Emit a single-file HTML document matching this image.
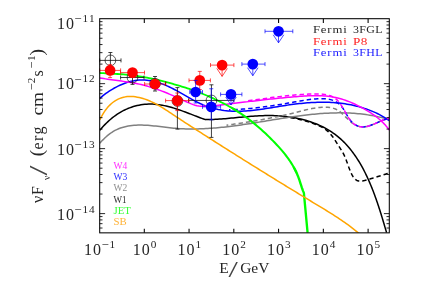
<!DOCTYPE html>
<html><head><meta charset="utf-8"><title>SED</title>
<style>html,body{margin:0;padding:0;background:#fff;}body{width:432px;height:282px;overflow:hidden;}svg{display:block;}text{font-family:"Liberation Serif",serif;}</style></head><body>
<svg width="432" height="282" viewBox="0 0 432 282" style="will-change:transform">
<rect width="432" height="282" fill="#fff"/>
<defs><mask id="m" maskUnits="userSpaceOnUse" x="0" y="0" width="432" height="282"><rect width="432" height="282" fill="#fff"/></mask><clipPath id="c"><rect x="99.70" y="18.70" width="289.60" height="214.15"/></clipPath></defs>
<g clip-path="url(#c)" fill="none" stroke-linejoin="round">
<path d="M99.85 130.24L101.11 128.74L102.41 127.27L103.75 125.82L105.12 124.38L106.52 122.98L107.97 121.61L109.44 120.26L110.95 118.96L112.49 117.69L114.07 116.47L115.67 115.29L117.31 114.16L118.98 113.09L120.68 112.06L122.41 111.10L124.17 110.20L125.95 109.35L127.76 108.57L129.59 107.84L131.45 107.18L133.32 106.58L135.20 106.05L137.11 105.57L139.02 105.16L140.95 104.82L142.88 104.54L144.82 104.32L146.77 104.17L148.71 104.09L150.66 104.07L152.61 104.12L154.56 104.23L156.50 104.40L158.44 104.63L160.39 104.91L162.32 105.25L164.26 105.63L166.19 106.05L168.12 106.52L170.05 107.02L171.97 107.56L173.88 108.13L175.79 108.72L177.70 109.35L179.60 109.99L181.49 110.66L183.38 111.34L185.26 112.03L187.13 112.74L189.00 113.45L190.85 114.16L192.70 114.88L194.54 115.59L196.37 116.30L198.20 116.99L200.01 117.68L201.81 118.35L203.60 119.00L205.38 119.63L205.52 119.61L207.51 119.59L209.50 119.56L211.48 119.50L213.47 119.42L215.45 119.33L217.43 119.22L219.41 119.09L221.39 118.96L223.36 118.81L225.34 118.65L227.32 118.48L229.29 118.31L231.27 118.12L233.24 117.94L235.22 117.75L237.20 117.56L239.17 117.37L241.15 117.19L243.13 117.00L245.11 116.82L247.09 116.65L249.07 116.48L251.05 116.33L253.03 116.18L255.02 116.05L257.00 115.92L258.99 115.82L260.98 115.73L262.97 115.66L264.97 115.60L266.96 115.57L268.96 115.56L270.96 115.58L272.97 115.62L274.98 115.68L276.98 115.77L278.99 115.89L281.00 116.04L283.00 116.21L285.00 116.41L287.00 116.64L288.99 116.89L290.98 117.18L292.96 117.50L294.93 117.84L296.90 118.22L298.86 118.63L300.81 119.07L302.74 119.55L304.67 120.05L306.58 120.59L308.48 121.17L310.36 121.77L312.23 122.42L314.09 123.10L315.92 123.81L317.74 124.56L319.54 125.35L321.32 126.17L323.08 127.04L324.82 127.94L326.54 128.88L328.23 129.85L329.90 130.87L331.54 131.93L333.16 133.03L334.76 134.17L336.32 135.36L337.86 136.58L339.36 137.85L340.84 139.15L342.29 140.50L343.71 141.88L345.10 143.30L346.46 144.75L347.79 146.24L349.10 147.75L350.37 149.29L351.61 150.86L352.83 152.45L354.01 154.07L355.17 155.71L356.30 157.37L357.40 159.05L358.47 160.74L359.51 162.46L360.53 164.19L361.53 165.93L362.50 167.69L363.44 169.46L364.36 171.24L365.27 173.03L366.15 174.83L367.01 176.64L367.85 178.46L368.67 180.28L369.47 182.11L370.26 183.94L371.03 185.78L371.78 187.62L372.52 189.47L373.24 191.32L373.95 193.18L374.64 195.04L375.32 196.90L375.99 198.77L376.65 200.64L377.30 202.52L377.93 204.40L378.56 206.28L379.17 208.16L379.78 210.05L380.38 211.94L380.97 213.83L381.56 215.72L382.13 217.62L382.71 219.51L383.28 221.41L383.84 223.31L384.40 225.21L384.96 227.11L385.51 229.01L386.07 230.91L386.62 232.81" stroke="#000" stroke-width="1.5"/>
<path d="M283.00 116.60L284.99 116.83L286.98 117.08L288.95 117.36L290.92 117.67L292.87 118.01L294.82 118.37L296.77 118.77L298.71 119.19L300.64 119.65L302.56 120.13L304.48 120.65L306.39 121.20L308.30 121.78L310.21 122.39L312.11 123.04L314.00 123.72L315.89 124.44L317.75 125.21L319.58 126.04L321.37 126.94L323.10 127.91L324.77 128.96L326.37 130.11L327.88 131.35L329.30 132.71L330.62 134.16L331.87 135.70L333.06 137.31L334.19 138.97L335.29 140.66L336.38 142.37L337.46 144.06L338.54 145.74L339.63 147.41L340.69 149.07L341.73 150.74L342.72 152.43L343.64 154.16L344.49 155.93L345.28 157.74L346.01 159.59L346.71 161.46L347.39 163.35L348.06 165.25L348.75 167.15L349.46 169.04L350.21 170.93L351.02 172.79L351.90 174.63L352.87 176.42L353.98 178.07L355.29 179.45L356.84 180.44L358.59 181.00L360.48 181.16L362.47 180.99L364.52 180.58L366.58 180.03L368.61 179.41L370.57 178.81L372.47 178.22L374.32 177.65L376.14 177.09L377.95 176.53L379.77 175.97L381.60 175.40L383.46 174.81L385.37 174.20L387.34 173.57L389.40 172.90" stroke="#000" stroke-width="1.5" stroke-dasharray="4.4 3"/>
<path d="M99.77 143.28L101.08 141.81L102.44 140.35L103.85 138.93L105.30 137.53L106.81 136.19L108.36 134.89L109.95 133.66L111.59 132.51L113.28 131.43L115.01 130.45L116.79 129.57L118.61 128.77L120.46 128.07L122.34 127.46L124.25 126.93L126.18 126.47L128.13 126.09L130.10 125.77L132.08 125.52L134.06 125.33L136.05 125.20L138.04 125.12L140.02 125.09L142.01 125.10L143.99 125.15L145.97 125.24L147.96 125.37L149.94 125.52L151.92 125.69L153.90 125.89L155.89 126.10L157.87 126.33L159.85 126.57L161.84 126.81L163.83 127.06L165.81 127.30L167.80 127.54L169.79 127.77L171.79 127.99L173.78 128.18L175.78 128.36L177.78 128.51L179.78 128.65L181.78 128.76L183.78 128.85L185.79 128.91L187.79 128.96L189.80 128.99L191.80 129.00L193.81 129.00L195.81 128.97L197.81 128.93L199.81 128.87L201.80 128.80L203.80 128.71L205.79 128.61L207.78 128.50L209.76 128.37L211.74 128.23L213.72 128.08L215.70 127.92L217.67 127.74L219.65 127.55L221.62 127.36L223.59 127.15L225.56 126.93L227.53 126.71L229.49 126.47L231.46 126.23L233.43 125.97L235.39 125.71L237.36 125.45L239.32 125.17L241.29 124.89L243.25 124.60L245.22 124.31L247.19 124.01L249.16 123.71L251.13 123.40L253.10 123.09L255.07 122.77L257.04 122.46L259.01 122.13L260.98 121.81L262.95 121.49L264.93 121.16L266.90 120.84L268.88 120.51L270.85 120.19L272.83 119.86L274.80 119.54L276.78 119.22L278.76 118.90L280.74 118.59L282.71 118.28L284.69 117.97L286.67 117.66L288.65 117.36L290.63 117.07L292.61 116.78L294.59 116.50L296.57 116.22L298.55 115.96L300.53 115.70L302.51 115.44L304.49 115.20L306.47 114.97L308.46 114.74L310.44 114.53L312.42 114.32L314.40 114.13L316.38 113.95L318.36 113.78L320.35 113.62L322.33 113.48L324.31 113.35L326.29 113.23L328.27 113.13L330.25 113.04L332.23 112.97L334.21 112.92L336.19 112.88L338.17 112.85L340.15 112.85L342.13 112.86L344.11 112.89L346.09 112.94L348.07 113.01L350.05 113.10L352.03 113.21L354.01 113.34L355.98 113.49L357.96 113.66L359.94 113.86L361.91 114.07L363.89 114.32L365.87 114.58L367.84 114.87L369.81 115.18L371.79 115.52L373.76 115.88L375.73 116.27L377.70 116.69L379.68 117.13L381.65 117.60L383.61 118.10L385.58 118.63L387.55 119.18L389.52 119.77" stroke="#808080" stroke-width="1.5"/>
<path d="M226.50 125.27L228.46 124.98L230.43 124.69L232.39 124.40L234.35 124.10L236.31 123.81L238.27 123.51L240.23 123.21L242.19 122.91L244.15 122.60L246.11 122.29L248.06 121.98L250.02 121.66L251.97 121.34L253.93 121.01L255.88 120.68L257.83 120.35L259.78 120.01L261.73 119.66L263.68 119.31L265.63 118.95L267.58 118.59L269.52 118.22L271.46 117.84L273.41 117.46L275.35 117.07L277.29 116.67L279.23 116.26L281.17 115.85L283.10 115.43L285.04 115.00L286.97 114.56L288.90 114.11L290.83 113.65L292.76 113.18L294.68 112.71L296.61 112.22L298.53 111.73L300.46 111.23L302.38 110.74L304.31 110.26L306.24 109.79L308.17 109.35L310.11 108.93L312.05 108.54L314.01 108.20L315.96 107.89L317.93 107.63L319.91 107.43L321.90 107.29L323.90 107.21L325.90 107.22L327.88 107.32L329.85 107.53L331.77 107.88L333.64 108.37L335.45 109.02L337.18 109.85L338.83 110.87L340.40 112.04L341.92 113.34L343.40 114.72L344.86 116.16L346.30 117.63L347.76 119.09L349.23 120.51L350.74 121.85L352.30 123.09L353.93 124.18L355.63 125.11L357.41 125.85L359.23 126.39L361.10 126.72L363.00 126.83L364.92 126.72L366.85 126.41L368.78 125.93L370.72 125.33L372.65 124.62L374.57 123.84L376.46 123.02L378.33 122.20L380.17 121.38L382.00 120.60L383.82 119.87L385.65 119.21L387.49 118.63L389.36 118.14" stroke="#808080" stroke-width="1.5" stroke-dasharray="4.4 3" stroke-dashoffset="2.60"/>
<path d="M99.75 98.33L101.22 97.07L102.73 95.83L104.29 94.62L105.89 93.43L107.53 92.27L109.20 91.15L110.91 90.06L112.65 89.02L114.41 88.01L116.21 87.05L118.03 86.14L119.88 85.27L121.74 84.47L123.63 83.71L125.53 83.02L127.44 82.39L129.37 81.83L131.30 81.33L133.24 80.91L135.19 80.56L137.14 80.28L139.09 80.09L141.04 79.98L142.99 79.96L144.93 80.02L146.86 80.17L148.79 80.39L150.71 80.69L152.63 81.06L154.53 81.50L156.43 82.01L158.32 82.57L160.20 83.19L162.07 83.86L163.94 84.58L165.79 85.35L167.63 86.16L169.46 87.00L171.27 87.88L173.08 88.79L174.87 89.73L176.65 90.68L178.42 91.66L180.18 92.65L181.94 93.65L183.69 94.65L185.43 95.65L187.17 96.66L188.92 97.65L190.67 98.63L192.42 99.60L194.18 100.55L195.94 101.47L197.72 102.37L199.51 103.23L201.31 104.06L203.13 104.84L204.97 105.58L206.83 106.28L208.71 106.92L210.60 107.52L212.50 108.08L214.42 108.58L216.35 109.05L218.29 109.47L220.24 109.84L222.19 110.17L224.16 110.46L226.12 110.70L228.10 110.90L230.07 111.06L232.04 111.18L234.02 111.25L236.00 111.29L237.98 111.29L239.96 111.26L241.94 111.20L243.92 111.11L245.90 110.98L247.89 110.83L249.87 110.66L251.86 110.46L253.84 110.25L255.83 110.01L257.81 109.75L259.80 109.48L261.79 109.20L263.77 108.91L265.76 108.60L267.74 108.29L269.73 107.97L271.71 107.64L273.70 107.32L275.68 106.99L277.67 106.67L279.65 106.34L281.63 106.03L283.61 105.72L285.59 105.42L287.57 105.12L289.55 104.84L291.52 104.57L293.50 104.31L295.48 104.06L297.45 103.82L299.43 103.60L301.41 103.39L303.38 103.20L305.36 103.02L307.34 102.86L309.32 102.71L311.29 102.59L313.27 102.48L315.25 102.39L317.24 102.32L319.22 102.27L321.20 102.24L323.19 102.24L325.18 102.26L327.17 102.30L329.16 102.37L331.15 102.46L333.14 102.57L335.13 102.71L337.12 102.88L339.10 103.08L341.08 103.30L343.06 103.55L345.04 103.83L347.01 104.14L348.97 104.48L350.93 104.85L352.88 105.25L354.82 105.68L356.75 106.15L358.68 106.64L360.59 107.17L362.50 107.74L364.39 108.34L366.28 108.97L368.15 109.64L370.00 110.35L371.85 111.09L373.68 111.87L375.49 112.69L377.29 113.55L379.08 114.44L380.84 115.38L382.59 116.36L384.32 117.37L386.03 118.43L387.73 119.53L389.40 120.68" stroke="#0000ff" stroke-width="1.5"/>
<path d="M229.00 109.75L230.99 109.69L232.98 109.62L234.97 109.54L236.95 109.44L238.94 109.32L240.92 109.20L242.90 109.06L244.88 108.91L246.86 108.74L248.83 108.57L250.81 108.38L252.78 108.18L254.75 107.97L256.73 107.75L258.70 107.52L260.67 107.28L262.63 107.03L264.60 106.77L266.57 106.51L268.53 106.23L270.50 105.95L272.46 105.66L274.43 105.36L276.39 105.06L278.35 104.75L280.31 104.43L282.28 104.11L284.24 103.78L286.20 103.45L288.16 103.11L290.12 102.77L292.08 102.43L294.04 102.08L296.00 101.73L297.96 101.38L299.92 101.03L301.88 100.68L303.84 100.35L305.81 100.04L307.77 99.75L309.74 99.48L311.71 99.25L313.68 99.05L315.65 98.89L317.63 98.78L319.61 98.71L321.59 98.70L323.58 98.75L325.57 98.86L327.56 99.06L329.53 99.38L331.46 99.86L333.34 100.51L335.14 101.34L336.86 102.33L338.48 103.46L339.97 104.74L341.32 106.16L342.53 107.69L343.63 109.31L344.65 111.00L345.63 112.74L346.60 114.49L347.60 116.24L348.68 117.96L349.85 119.62L351.15 121.20L352.55 122.65L354.06 123.94L355.67 125.04L357.36 125.91L359.13 126.51L360.96 126.84L362.86 126.90L364.79 126.74L366.75 126.39L368.73 125.89L370.71 125.26L372.68 124.54L374.62 123.76L376.52 122.96L378.37 122.16L380.17 121.39L381.95 120.66L383.73 119.96L385.55 119.30L387.42 118.69L389.38 118.12" stroke="#0000ff" stroke-width="1.5" stroke-dasharray="4.4 3" stroke-dashoffset="3.00"/>
<path d="M99.73 77.90L101.68 78.24L103.63 78.57L105.59 78.88L107.55 79.17L109.53 79.46L111.50 79.74L113.48 80.01L115.46 80.28L117.45 80.55L119.43 80.82L121.42 81.10L123.41 81.38L125.39 81.67L127.37 81.97L129.35 82.28L131.32 82.61L133.29 82.96L135.26 83.33L137.21 83.72L139.16 84.13L141.11 84.57L143.04 85.04L144.96 85.54L146.88 86.06L148.79 86.61L150.69 87.19L152.58 87.78L154.47 88.40L156.35 89.04L158.22 89.70L160.09 90.39L161.95 91.09L163.80 91.81L165.66 92.54L167.50 93.30L169.34 94.07L171.18 94.85L173.01 95.65L174.84 96.46L176.67 97.28L178.49 98.12L180.31 98.96L182.13 99.81L183.95 100.67L185.78 101.51L187.61 102.35L189.46 103.15L191.33 103.91L193.20 104.60L195.10 105.20L197.01 105.68L198.95 106.03L200.89 106.24L202.86 106.34L204.83 106.34L206.82 106.27L208.81 106.15L210.80 105.98L212.79 105.79L214.78 105.60L216.78 105.40L218.76 105.19L220.75 104.98L222.74 104.75L224.73 104.53L226.71 104.30L228.70 104.06L230.68 103.83L232.66 103.59L234.64 103.34L236.63 103.10L238.61 102.85L240.59 102.60L242.57 102.36L244.55 102.11L246.52 101.87L248.50 101.62L250.48 101.38L252.46 101.14L254.44 100.91L256.41 100.67L258.39 100.44L260.37 100.21L262.35 99.99L264.33 99.76L266.30 99.54L268.28 99.33L270.26 99.11L272.24 98.90L274.23 98.69L276.21 98.49L278.19 98.29L280.18 98.09L282.16 97.89L284.15 97.70L286.14 97.52L288.13 97.33L290.12 97.15L292.11 96.98L294.11 96.81L296.11 96.64L298.10 96.48L300.10 96.33L302.10 96.18L304.10 96.05L306.11 95.93L308.11 95.83L310.10 95.75L312.10 95.69L314.10 95.66L316.09 95.65L318.08 95.67L320.07 95.72L322.05 95.80L324.03 95.92L326.00 96.08L327.97 96.28L329.93 96.53L331.88 96.82L333.83 97.15L335.77 97.54L337.70 97.98L339.63 98.47L341.54 99.02L343.45 99.61L345.34 100.25L347.23 100.93L349.10 101.65L350.96 102.41L352.81 103.21L354.64 104.05L356.46 104.91L358.27 105.81L360.06 106.73L361.83 107.68L363.59 108.64L365.33 109.63L367.05 110.64L368.75 111.67L370.43 112.73L372.09 113.81L373.72 114.93L375.32 116.08L376.89 117.27L378.43 118.50L379.94 119.77L381.41 121.09L382.84 122.46L384.23 123.88L385.58 125.37L386.89 126.91L388.15 128.51L389.36 130.18" stroke="#ff00ff" stroke-width="1.5"/>
<path d="M247.71 100.75L249.70 100.48L251.69 100.22L253.67 99.96L255.65 99.69L257.62 99.42L259.59 99.16L261.55 98.89L263.51 98.63L265.47 98.37L267.42 98.11L269.37 97.85L271.32 97.60L273.27 97.35L275.22 97.11L277.17 96.87L279.11 96.63L281.06 96.41L283.01 96.18L284.96 95.97L286.92 95.76L288.87 95.56L290.83 95.37L292.80 95.18L294.76 95.01L296.74 94.85L298.71 94.69L300.69 94.55L302.68 94.42L304.68 94.30L306.68 94.19L308.69 94.10L310.70 94.01L312.73 93.95L314.76 93.90L316.79 93.88L318.80 93.91L320.81 94.00L322.78 94.16L324.72 94.40L326.62 94.75L328.47 95.21L330.27 95.79L332.00 96.51L333.65 97.39L335.23 98.43L336.72 99.65L338.11 101.06L339.41 102.63L340.63 104.30L341.78 106.05L342.86 107.83L343.89 109.60L344.87 111.35L345.84 113.06L346.81 114.76L347.80 116.44L348.84 118.10L349.94 119.74L351.15 121.32L352.49 122.77L354.00 124.02L355.66 125.05L357.43 125.85L359.29 126.42L361.20 126.77L363.13 126.88L365.05 126.77L366.97 126.46L368.87 125.99L370.77 125.39L372.67 124.67L374.56 123.88L376.43 123.03L378.31 122.17L380.17 121.32L382.02 120.50L383.87 119.75L385.71 119.10L387.53 118.57L389.35 118.20" stroke="#ff00ff" stroke-width="1.5" stroke-dasharray="4.4 3" stroke-dashoffset="7.00"/>
<path d="M99.70 72.99L101.68 73.10L103.67 73.20L105.65 73.30L107.64 73.40L109.62 73.51L111.61 73.61L113.60 73.73L115.58 73.84L117.57 73.97L119.56 74.10L121.54 74.25L123.52 74.41L125.50 74.58L127.48 74.77L129.46 74.98L131.43 75.20L133.40 75.45L135.37 75.71L137.33 76.00L139.29 76.30L141.25 76.62L143.20 76.96L145.15 77.32L147.10 77.69L149.05 78.08L150.99 78.49L152.93 78.91L154.87 79.34L156.81 79.78L158.74 80.24L160.67 80.71L162.60 81.19L164.53 81.68L166.46 82.18L168.38 82.69L170.30 83.21L172.22 83.73L174.14 84.27L176.05 84.82L177.96 85.38L179.87 85.95L181.77 86.54L183.67 87.13L185.57 87.74L187.46 88.35L189.34 88.98L191.23 89.63L193.10 90.28L194.97 90.95L196.84 91.64L198.69 92.33L200.55 93.04L202.39 93.76L204.23 94.50L206.06 95.26L207.89 96.02L209.70 96.81L211.51 97.61L213.31 98.42L215.11 99.25L216.89 100.10L218.67 100.96L220.43 101.83L222.20 102.73L223.95 103.63L225.70 104.55L227.43 105.49L229.16 106.45L230.89 107.42L232.60 108.41L234.30 109.42L235.98 110.45" stroke="#00ff00" stroke-width="1.85" stroke-linecap="round"/>
<path d="M232.60 108.41L234.30 109.42L235.98 110.45L237.66 111.51L239.32 112.59L240.96 113.68L242.60 114.80L244.22 115.94L245.83 117.09L247.42 118.26L249.01 119.45L250.58 120.66L252.14 121.89L253.69 123.13L255.22 124.39L256.75 125.67L258.26 126.96L259.76 128.26L261.25 129.58L262.73 130.91L264.20 132.26L265.66 133.62L267.10 135.00L268.54 136.38L269.96 137.78L271.37 139.18L272.78 140.60L274.17 142.03L275.55 143.47L276.91 144.93L278.26 146.39L279.60 147.87L280.91 149.37L282.21 150.87L283.48 152.40L284.72 153.94L285.94 155.50L287.13 157.08L288.30 158.68L289.43 160.30L290.52 161.94L291.59 163.61L292.61 165.29L293.60 167.00L294.54 168.74L295.45 170.50L296.31 172.29" stroke="#00ff00" stroke-width="2.05" stroke-linecap="round"/>
<path d="M293.60 167.00L294.54 168.74L295.45 170.50L296.31 172.29L297.12 174.10L297.89 175.94L298.61 177.81L299.28 179.71L299.91 181.63L300.53 183.56L301.14 185.48L301.76 187.39L302.42 189.27L303.12 191.11L303.88 192.91L305.20 207.20L307.60 232.90" stroke="#00ff00" stroke-width="2.35"/>
<path d="M99.85 119.80L100.69 118.04L101.60 116.28L102.59 114.53L103.65 112.80L104.78 111.11L105.99 109.45L107.27 107.86L108.62 106.32L110.03 104.87L111.52 103.51L113.07 102.25L114.69 101.10L116.38 100.08L118.12 99.18L119.92 98.40L121.76 97.76L123.64 97.25L125.55 96.86L127.49 96.61L129.44 96.48L131.40 96.48L133.37 96.60L135.34 96.82L137.29 97.14L139.23 97.53L141.14 98.00L143.04 98.54L144.91 99.14L146.77 99.81L148.60 100.53L150.42 101.31L152.23 102.14L154.02 103.01L155.79 103.93L157.55 104.88L159.30 105.87L161.04 106.89L162.76 107.93L164.48 109.00L166.19 110.09L167.89 111.19L169.58 112.30L171.27 113.41L172.95 114.53L174.63 115.65L176.31 116.77L177.98 117.87L179.65 118.98L181.32 120.08L182.99 121.17L184.65 122.26L186.32 123.34L187.98 124.42L189.64 125.50L191.31 126.57L192.97 127.65L194.63 128.72L196.29 129.78L197.95 130.85L199.62 131.92L201.28 132.98L202.94 134.05L204.61 135.12L206.28 136.18L207.95 137.25L209.61 138.31L211.28 139.37L212.96 140.44L214.63 141.50L216.30 142.57L217.98 143.63L219.65 144.69L221.33 145.75L223.00 146.82L224.68 147.88L226.36 148.94L228.04 150.00L229.72 151.06L231.40 152.12L233.08 153.18L234.76 154.24L236.45 155.30L238.13 156.36L239.82 157.41L241.50 158.47L243.19 159.53L244.88 160.58L246.56 161.64L248.25 162.70L249.94 163.75L251.63 164.80L253.32 165.86L255.01 166.91L256.70 167.96L258.40 169.01L260.09 170.07L261.78 171.12L263.47 172.17L265.17 173.22L266.86 174.26L268.56 175.31L270.25 176.36L271.95 177.41L273.65 178.45L275.34 179.50L277.04 180.54L278.74 181.58L280.44 182.63L282.13 183.67L283.83 184.71L285.53 185.75L287.23 186.79L288.93 187.83L290.63 188.87L292.33 189.91L294.03 190.94L295.73 191.98L297.43 193.01L299.13 194.05L300.83 195.08L302.53 196.11L304.24 197.14L305.94 198.17L307.64 199.20L309.34 200.23L311.04 201.26L312.74 202.29L314.45 203.31L316.15 204.34L317.85 205.36L319.55 206.39L321.25 207.41L322.95 208.44L324.64 209.47L326.33 210.51L328.02 211.55L329.71 212.60L331.39 213.65L333.07 214.71L334.74 215.78L336.41 216.85L338.07 217.94L339.72 219.04L341.37 220.15L343.00 221.27L344.64 222.41L346.26 223.56L347.87 224.72L349.48 225.91L351.07 227.10L352.65 228.32L354.23 229.55L355.79 230.81L357.34 232.08L358.88 233.38" stroke="#ffa500" stroke-width="1.5"/>
</g>
<g>
<path d="M99.75 60.40H121.00M99.75 58.40V62.40M121.00 58.40V62.40M110.40 52.50V68.50M108.40 52.50H112.40M108.40 68.50H112.40" stroke="#111" stroke-width="0.8" fill="none"/>
<circle cx="110.40" cy="60.40" r="5.35" fill="none" stroke="#111" stroke-width="0.7"/>
<path d="M120.60 77.50H144.00M120.60 75.50V79.50M144.00 75.50V79.50M132.50 71.00V84.40M130.50 71.00H134.50M130.50 84.40H134.50" stroke="#111" stroke-width="0.8" fill="none"/>
<circle cx="132.50" cy="77.50" r="5.35" fill="none" stroke="#111" stroke-width="0.7"/>
<path d="M165.60 83.75H165.60M165.60 81.75V85.75M165.60 81.75V85.75M155.00 76.50V91.00M153.00 76.50H157.00M153.00 91.00H157.00" stroke="#111" stroke-width="0.8" fill="none"/>
<circle cx="155.00" cy="83.75" r="5.35" fill="none" stroke="#111" stroke-width="0.7"/>
<path d="M177.40 87.60V129.10M175.40 87.60H179.40M175.40 129.10H179.40" stroke="#111" stroke-width="0.8" fill="none"/>
<circle cx="177.40" cy="101.00" r="5.35" fill="none" stroke="#111" stroke-width="0.7"/>
<path d="M188.50 100.45H233.90M188.50 98.45V102.45M233.90 98.45V102.45M211.45 84.80V137.40M209.45 84.80H213.45M209.45 137.40H213.45" stroke="#111" stroke-width="0.8" fill="none"/>
<circle cx="211.45" cy="100.45" r="5.35" fill="none" stroke="#111" stroke-width="0.7"/>
</g>
<g>
<path d="M99.75 70.40H120.60M99.75 68.40V72.40M120.60 68.40V72.40M110.10 64.60V77.60M108.10 64.60H112.10M108.10 77.60H112.10" stroke="#ff0000" stroke-width="0.7" fill="none"/>
<circle cx="110.10" cy="70.40" r="5.35" fill="#ff0000"/>
<path d="M120.50 72.60H144.50M120.50 70.60V74.60M144.50 70.60V74.60" stroke="#ff0000" stroke-width="0.7" fill="none"/>
<circle cx="132.50" cy="72.60" r="5.35" fill="#ff0000"/>
<path d="M144.60 84.00H165.60M144.60 82.00V86.00M165.60 82.00V86.00" stroke="#ff0000" stroke-width="0.7" fill="none"/>
<circle cx="155.00" cy="84.00" r="5.35" fill="#ff0000"/>
<path d="M165.60 100.60H189.00M165.60 98.60V102.60M189.00 98.60V102.60M177.30 93.00V110.60M175.30 93.00H179.30M175.30 110.60H179.30" stroke="#ff0000" stroke-width="0.7" fill="none"/>
<circle cx="177.30" cy="100.60" r="5.35" fill="#ff0000"/>
<path d="M189.00 80.40H210.40M189.00 78.40V82.40M210.40 78.40V82.40M199.75 71.40V89.50M197.75 71.40H201.75M197.75 89.50H201.75" stroke="#ff0000" stroke-width="0.7" fill="none"/>
<circle cx="199.75" cy="80.40" r="5.35" fill="#ff0000"/>
<path d="M210.50 65.10H233.90M210.50 63.10V67.10M233.90 63.10V67.10" stroke="#ff0000" stroke-width="0.7" fill="none"/>
<path d="M222.10 65.10V76.40M216.80 68.40L222.10 76.40L227.40 68.40" stroke="#ff0000" stroke-width="0.7" fill="none"/>
<circle cx="222.1" cy="65.1" r="5.35" fill="#ff0000"/>
</g>
<g>
<path d="M189.75 92.00H202.50M189.75 90.00V94.00M202.50 90.00V94.00M195.60 80.40V103.00M193.60 80.40H197.60M193.60 103.00H197.60" stroke="#0000ff" stroke-width="0.7" fill="none"/>
<circle cx="195.6" cy="92" r="5.35" fill="#0000ff"/>
<path d="M202.50 106.90H220.60M202.50 104.90V108.90M220.60 104.90V108.90M211.25 88.75V119.80M209.25 88.75H213.25M209.25 119.80H213.25" stroke="#0000ff" stroke-width="0.7" fill="none"/>
<circle cx="211.25" cy="106.9" r="5.35" fill="#0000ff"/>
<path d="M220.60 94.40H241.90M220.60 92.40V96.40M241.90 92.40V96.40" stroke="#0000ff" stroke-width="0.7" fill="none"/>
<path d="M231.00 94.40V105.00M225.70 97.00L231.00 105.00L236.30 97.00" stroke="#0000ff" stroke-width="0.7" fill="none"/>
<circle cx="231.00" cy="94.40" r="5.35" fill="#0000ff"/>
<path d="M241.90 64.10H265.00M241.90 62.10V66.10M265.00 62.10V66.10" stroke="#0000ff" stroke-width="0.7" fill="none"/>
<path d="M252.80 64.10V75.70M247.50 67.70L252.80 75.70L258.10 67.70" stroke="#0000ff" stroke-width="0.7" fill="none"/>
<circle cx="252.80" cy="64.10" r="5.35" fill="#0000ff"/>
<path d="M265.00 31.30H292.80M265.00 29.30V33.30M292.80 29.30V33.30" stroke="#0000ff" stroke-width="0.7" fill="none"/>
<path d="M278.50 31.30V42.80M273.20 34.80L278.50 42.80L283.80 34.80" stroke="#0000ff" stroke-width="0.7" fill="none"/>
<circle cx="278.50" cy="31.30" r="5.35" fill="#0000ff"/>
</g>
<path d="M144.30 232.85v-4.2M144.30 18.70v4.2M189.06 232.85v-4.2M189.06 18.70v4.2M233.82 232.85v-4.2M233.82 18.70v4.2M278.58 232.85v-4.2M278.58 18.70v4.2M323.34 232.85v-4.2M323.34 18.70v4.2M368.10 232.85v-4.2M368.10 18.70v4.2" stroke="#000" stroke-width="1.05" fill="none"/>
<path d="M99.70 64.11h2.8M389.30 64.11h-2.8M99.70 52.67h2.8M389.30 52.67h-2.8M99.70 44.55h2.8M389.30 44.55h-2.8M99.70 38.26h2.8M389.30 38.26h-2.8M99.70 33.11h2.8M389.30 33.11h-2.8M99.70 28.76h2.8M389.30 28.76h-2.8M99.70 25.00h2.8M389.30 25.00h-2.8M99.70 21.67h2.8M389.30 21.67h-2.8M99.70 83.67h5.4M389.30 83.67h-5.4M99.70 129.08h2.8M389.30 129.08h-2.8M99.70 117.64h2.8M389.30 117.64h-2.8M99.70 109.52h2.8M389.30 109.52h-2.8M99.70 103.23h2.8M389.30 103.23h-2.8M99.70 98.08h2.8M389.30 98.08h-2.8M99.70 93.73h2.8M389.30 93.73h-2.8M99.70 89.97h2.8M389.30 89.97h-2.8M99.70 86.64h2.8M389.30 86.64h-2.8M99.70 148.64h5.4M389.30 148.64h-5.4M99.70 194.05h2.8M389.30 194.05h-2.8M99.70 182.61h2.8M389.30 182.61h-2.8M99.70 174.49h2.8M389.30 174.49h-2.8M99.70 168.20h2.8M389.30 168.20h-2.8M99.70 163.05h2.8M389.30 163.05h-2.8M99.70 158.70h2.8M389.30 158.70h-2.8M99.70 154.94h2.8M389.30 154.94h-2.8M99.70 151.61h2.8M389.30 151.61h-2.8M99.70 213.61h5.4M389.30 213.61h-5.4M99.70 228.02h2.8M389.30 228.02h-2.8M99.70 223.67h2.8M389.30 223.67h-2.8M99.70 219.91h2.8M389.30 219.91h-2.8M99.70 216.58h2.8M389.30 216.58h-2.8" stroke="#000" stroke-width="0.85" fill="none"/>
<rect x="99.70" y="18.70" width="289.60" height="214.15" fill="none" stroke="#000" stroke-width="1.05"/>
<g mask="url(#m)">
<text x="56.90" y="28.90" font-size="16" fill="#262626" textLength="17.00" lengthAdjust="spacing">10</text>
<text x="75.20" y="21.30" font-size="11.6" fill="#262626">–</text>
<text transform="translate(82.40 21.90) scale(1.150 1)" font-size="9.8" fill="#262626" textLength="10.58" lengthAdjust="spacing">11</text>
<text x="56.90" y="89.20" font-size="16" fill="#262626" textLength="17.00" lengthAdjust="spacing">10</text>
<text x="75.20" y="81.60" font-size="11.6" fill="#262626">–</text>
<text transform="translate(82.40 82.20) scale(1.150 1)" font-size="9.8" fill="#262626" textLength="10.58" lengthAdjust="spacing">12</text>
<text x="56.90" y="154.60" font-size="16" fill="#262626" textLength="17.00" lengthAdjust="spacing">10</text>
<text x="75.20" y="147.00" font-size="11.6" fill="#262626">–</text>
<text transform="translate(82.40 147.60) scale(1.150 1)" font-size="9.8" fill="#262626" textLength="10.58" lengthAdjust="spacing">13</text>
<text x="56.90" y="219.60" font-size="16" fill="#262626" textLength="17.00" lengthAdjust="spacing">10</text>
<text x="75.20" y="212.00" font-size="11.6" fill="#262626">–</text>
<text transform="translate(82.40 212.60) scale(1.150 1)" font-size="9.8" fill="#262626" textLength="10.58" lengthAdjust="spacing">14</text>
<text x="84.10" y="254.80" font-size="16" fill="#262626" textLength="17.00" lengthAdjust="spacing">10</text>
<text x="102.40" y="247.20" font-size="11.6" fill="#262626">–</text>
<text transform="translate(109.60 247.80) scale(1.150 1)" font-size="9.8" fill="#262626" textLength="5.29" lengthAdjust="spacing">1</text>
<text x="132.70" y="254.80" font-size="16" fill="#262626" textLength="17.00" lengthAdjust="spacing">10</text>
<text transform="translate(150.80 247.80) scale(1.150 1)" font-size="9.8" fill="#262626" textLength="5.29" lengthAdjust="spacing">0</text>
<text x="177.46" y="254.80" font-size="16" fill="#262626" textLength="17.00" lengthAdjust="spacing">10</text>
<text transform="translate(195.56 247.80) scale(1.150 1)" font-size="9.8" fill="#262626" textLength="5.29" lengthAdjust="spacing">1</text>
<text x="222.22" y="254.80" font-size="16" fill="#262626" textLength="17.00" lengthAdjust="spacing">10</text>
<text transform="translate(240.32 247.80) scale(1.150 1)" font-size="9.8" fill="#262626" textLength="5.29" lengthAdjust="spacing">2</text>
<text x="266.98" y="254.80" font-size="16" fill="#262626" textLength="17.00" lengthAdjust="spacing">10</text>
<text transform="translate(285.08 247.80) scale(1.150 1)" font-size="9.8" fill="#262626" textLength="5.29" lengthAdjust="spacing">3</text>
<text x="311.74" y="254.80" font-size="16" fill="#262626" textLength="17.00" lengthAdjust="spacing">10</text>
<text transform="translate(329.84 247.80) scale(1.150 1)" font-size="9.8" fill="#262626" textLength="5.29" lengthAdjust="spacing">4</text>
<text x="356.50" y="254.80" font-size="16" fill="#262626" textLength="17.00" lengthAdjust="spacing">10</text>
<text transform="translate(374.60 247.80) scale(1.150 1)" font-size="9.8" fill="#262626" textLength="5.29" lengthAdjust="spacing">5</text>
<text x="219.30" y="273.40" font-size="15.5" fill="#262626">E</text>
<text transform="translate(228.60 277.00) scale(1.400 1)" font-size="24" fill="#444">/</text>
<text x="240.20" y="273.40" font-size="15.5" fill="#262626" textLength="29.20" lengthAdjust="spacingAndGlyphs">GeV</text>
<g transform="translate(42.5 202.8) rotate(-90)">
<text x="-0.30" y="0.00" font-size="16" fill="#262626">ν</text>
<text x="7.70" y="0.00" font-size="16" fill="#262626">F</text>
<text x="22.70" y="7.20" font-size="9.6" fill="#262626">ν</text>
<text transform="translate(27.20 4.70) scale(1.400 1)" font-size="25.5" fill="#444">/</text>
<text x="46.60" y="0.30" font-size="19.5" fill="#262626">(</text>
<text x="53.20" y="0.00" font-size="16" fill="#262626" textLength="23.20" lengthAdjust="spacing">erg</text>
<text x="87.30" y="0.00" font-size="16" fill="#262626" textLength="23.40" lengthAdjust="spacingAndGlyphs">cm</text>
<text x="113.40" y="-8.20" font-size="11.6" fill="#262626">–</text>
<text transform="translate(119.60 -7.40) scale(1.100 1)" font-size="10.2" fill="#262626">2</text>
<text x="126.20" y="0.00" font-size="16" fill="#262626">s</text>
<text x="135.00" y="-8.20" font-size="11.6" fill="#262626">–</text>
<text transform="translate(141.80 -7.40) scale(1.100 1)" font-size="10.2" fill="#262626">1</text>
<text x="147.30" y="0.30" font-size="19.5" fill="#262626">)</text>
</g>
<text transform="translate(312.90 33.40) scale(1.120 1)" font-size="11.4" fill="#262626" textLength="30.18" lengthAdjust="spacing">Fermi</text>
<text transform="translate(353.00 33.40) scale(1.100 1)" font-size="10.8" fill="#262626" textLength="26.73" lengthAdjust="spacing">3FGL</text>
<text transform="translate(312.90 44.50) scale(1.120 1)" font-size="11.4" fill="#ff2020" textLength="30.18" lengthAdjust="spacing">Fermi</text>
<text transform="translate(353.00 44.50) scale(1.220 1)" font-size="10.8" fill="#ff2020" textLength="11.80" lengthAdjust="spacing">P8</text>
<text transform="translate(312.90 55.60) scale(1.120 1)" font-size="11.4" fill="#2020ff" textLength="30.18" lengthAdjust="spacing">Fermi</text>
<text transform="translate(353.00 55.60) scale(1.100 1)" font-size="10.8" fill="#2020ff" textLength="26.73" lengthAdjust="spacing">3FHL</text>
<text x="113.50" y="169.10" font-size="11.3" fill="#ff30ff" textLength="13.80" lengthAdjust="spacingAndGlyphs">W4</text>
<text x="113.50" y="180.30" font-size="11.3" fill="#3030ff" textLength="13.80" lengthAdjust="spacingAndGlyphs">W3</text>
<text x="113.50" y="191.40" font-size="11.3" fill="#909090" textLength="13.80" lengthAdjust="spacingAndGlyphs">W2</text>
<text x="113.50" y="202.70" font-size="11.3" fill="#2a2a2a" textLength="13.00" lengthAdjust="spacingAndGlyphs">W1</text>
<text x="113.50" y="214.00" font-size="11.3" fill="#38ff38" textLength="17.40" lengthAdjust="spacingAndGlyphs">JET</text>
<text x="113.50" y="225.30" font-size="11.3" fill="#ffb338" textLength="13.20" lengthAdjust="spacingAndGlyphs">SB</text>
</g>
</svg></body></html>
